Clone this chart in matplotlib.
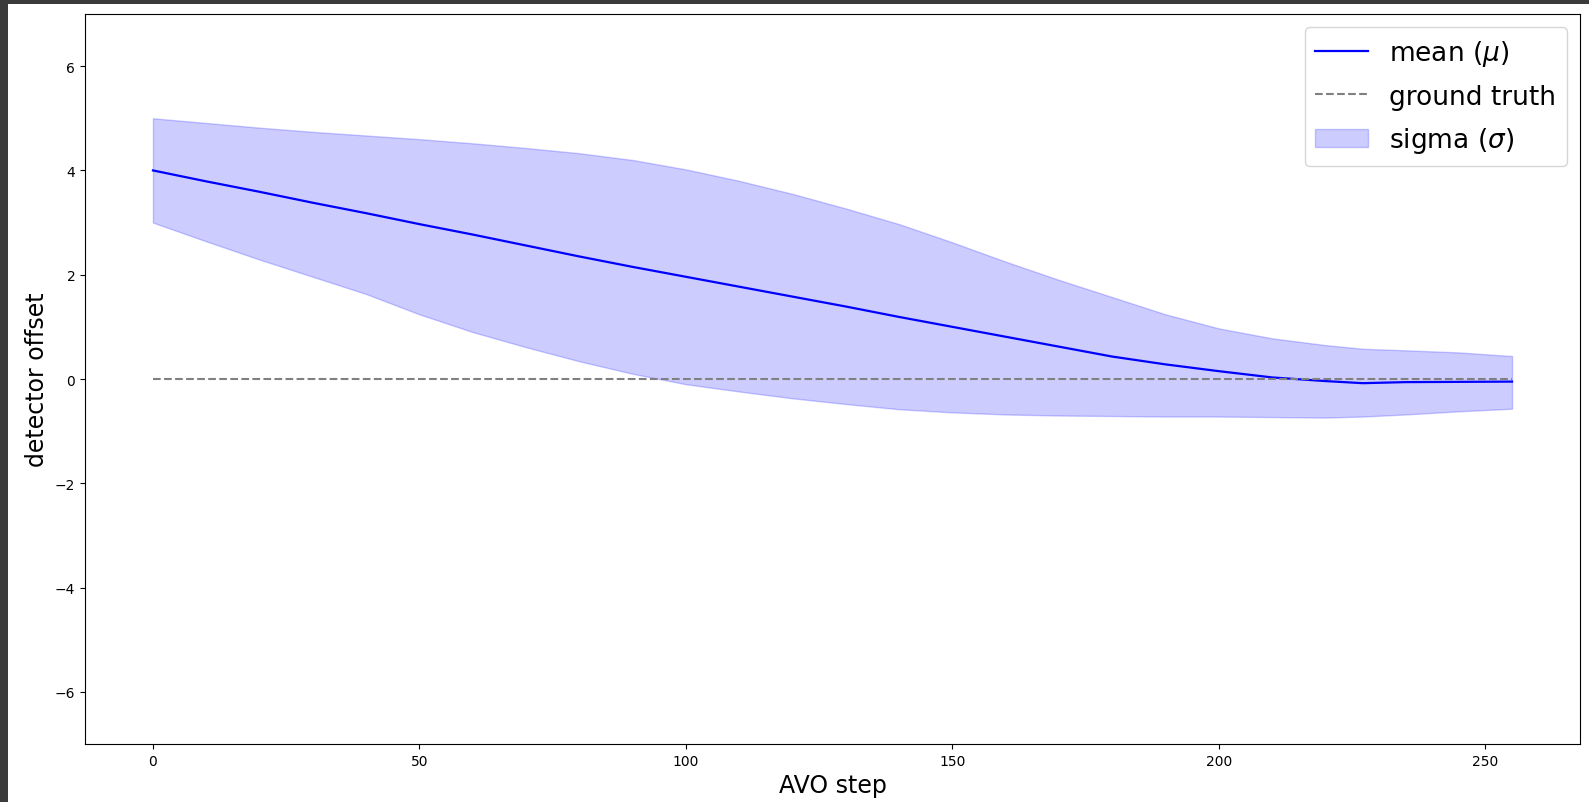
import matplotlib
matplotlib.use("Agg")
import matplotlib.pyplot as plt
from matplotlib.patches import Rectangle

# ---- data ----
steps = [0, 10, 20, 30, 40, 50, 60, 70, 80, 90, 100, 110, 120, 130, 140, 150, 160, 170, 180,
         190, 200, 210, 220, 227, 235, 245, 255]
mean_mu = [4.00, 3.79, 3.59, 3.38, 3.18, 2.97, 2.77, 2.56, 2.35, 2.15, 1.96, 1.77, 1.58, 1.39,
           1.19, 1.00, 0.81, 0.62, 0.43, 0.28, 0.15, 0.03, -0.04, -0.08, -0.06, -0.055, -0.05]
upper = [5.00, 4.91, 4.82, 4.74, 4.67, 4.60, 4.52, 4.43, 4.33, 4.20, 4.02, 3.80, 3.55, 3.27,
         2.97, 2.62, 2.25, 1.90, 1.57, 1.24, 0.97, 0.78, 0.65, 0.58, 0.55, 0.51, 0.44]
lower = [3.00, 2.64, 2.29, 1.96, 1.63, 1.24, 0.90, 0.61, 0.34, 0.10, -0.10, -0.24, -0.37, -0.48,
         -0.58, -0.64, -0.68, -0.70, -0.71, -0.72, -0.72, -0.73, -0.74, -0.72, -0.68, -0.62, -0.57]
ground_truth = [0.0] * len(steps)

W, H = 1589, 803
fig = plt.figure(figsize=(W / 100, H / 100), dpi=100, facecolor="#3b3b3b")
fig.patches.append(Rectangle((8 / W, 0), 1, (H - 5) / H, transform=fig.transFigure,
                             facecolor="white", edgecolor="none", zorder=-10))

ax = fig.add_axes([85 / W, (H - 745) / H, (1580 - 85) / W, (745 - 15) / H])
ax.plot(steps, mean_mu, color="b", linewidth=1.6, label=r"mean ($\mu$)")
ax.plot(steps, ground_truth, color="gray", linestyle="--", linewidth=1.5, label="ground truth")
ax.fill_between(steps, lower, upper, color="b", alpha=0.2, label=r"sigma ($\sigma$)")

ax.set_ylim(-7, 7)
ax.set_yticks([-6, -4, -2, 0, 2, 4, 6])
ax.set_xticks([0, 50, 100, 150, 200, 250])
ax.tick_params(labelsize=10)
ax.set_xlabel("AVO step", fontsize=17)
ax.set_ylabel("detector offset", fontsize=17)
ax.legend(loc="upper right", fontsize=19, labelspacing=0.6)

fig.savefig("out.png", dpi=100, facecolor=fig.get_facecolor())
